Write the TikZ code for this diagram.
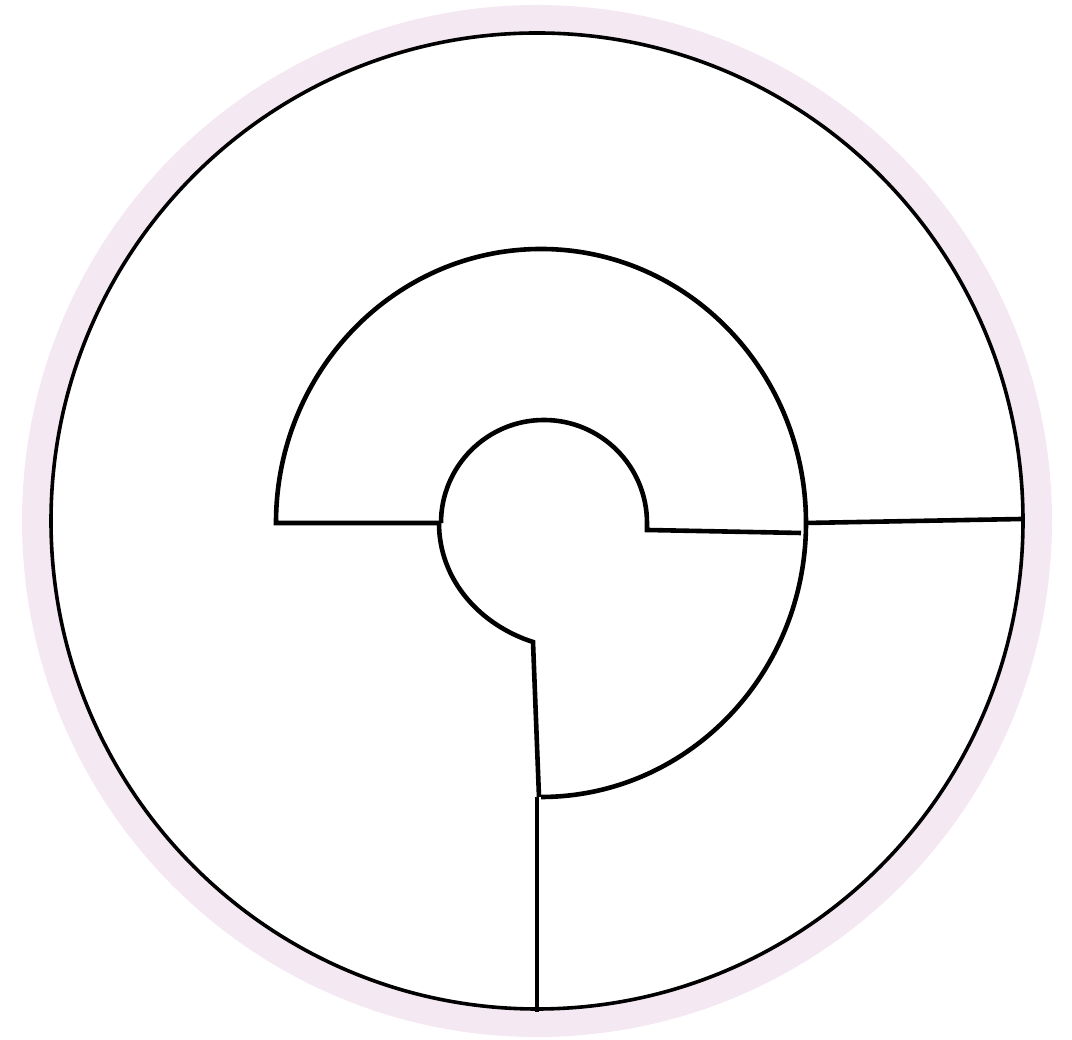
\documentclass[tikz,border=0pt]{standalone}
\definecolor{halo}{HTML}{F4E8F2}
\tikzset{
  ring/.style={line width=3.6pt, draw=black},
  wall/.style={line width=4.6pt, draw=black, line join=miter, line cap=butt},
}
\begin{document}
\begin{tikzpicture}[x=1pt,y=1pt]
\useasboundingbox (0,0) rectangle (1072,1040);
% halo and outer circle
\coordinate (c0) at (537,519);
\draw[halo, line width=28pt] (c0) ellipse[x radius=501, y radius=502];
\draw[ring] (c0) ellipse[x radius=486, y radius=488];
% named points
\coordinate (midL) at (276,517);
\coordinate (inL) at (441,517);
\coordinate (inL2) at (439,517);
\coordinate (inR) at (647,510);
\coordinate (midR) at (801,507);
\coordinate (midR2) at (806,517);
\coordinate (outR) at (1022,521);
\coordinate (stem) at (533,398);
\coordinate (midB) at (539,243);
\coordinate (midB2) at (537,243);
\coordinate (outB) at (537,28);
% middle ring: left spoke, 270 degree arc
\draw[wall] (inL) -- (midL) arc[start angle=180, end angle=-90, x radius=265, y radius=274];
% inner circle top and right spoke
\draw[wall] (inL) arc[start angle=180, end angle=0, radius=103] -- (inR) -- (midR);
% right outer spoke
\draw[wall] (midR2) -- (outR);
% lower-left inner curve and stem
\draw[wall] (inL2) .. controls (439,460) and (480,415) .. (stem) -- (midB);
\draw[wall] (midB2) -- (outB);
\end{tikzpicture}
\end{document}
